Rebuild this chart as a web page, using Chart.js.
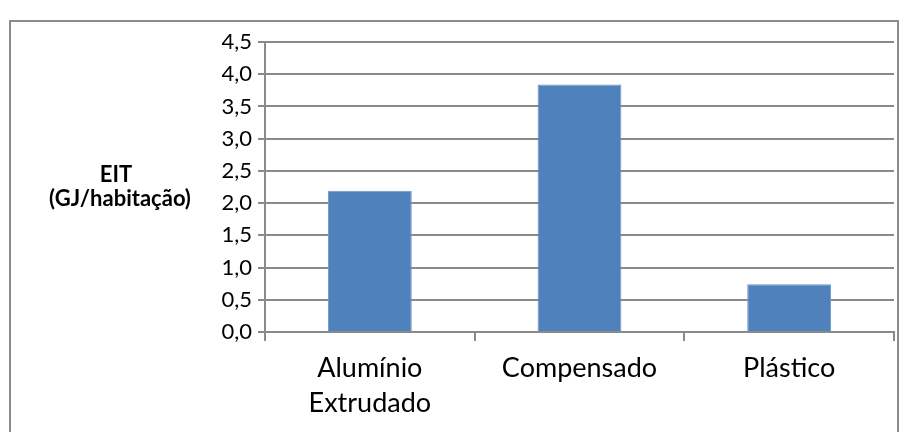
<!DOCTYPE html>
<html>
<head>
<meta charset="utf-8">
<script src="https://cdn.jsdelivr.net/npm/chart.js@4.4.0/dist/chart.umd.min.js"></script>
<style>
  html, body { margin: 0; padding: 0; background: #fff; }
  #wrap { width: 910px; height: 432px; }
</style>
</head>
<body>
<div id="wrap"><canvas id="eitChart"></canvas></div>
<script>
// categorias e valores de EIT (GJ/habitação)
const categorias = [['Alumínio', 'Extrudado'], 'Compensado', 'Plástico'];
const valoresEIT = [2.19, 3.84, 0.74];
const eixoY = { min: 0, max: 4.5, passo: 0.5 };
const tituloY = ['EIT', '(GJ/habitação)'];

const fonte = 'Lato, "Open Sans", sans-serif';
const cinza = '#8a8a8a';

// moldura e título do eixo Y desenhados à mão, estilo Excel
const moldura = {
  id: 'moldura',
  beforeDraw(chart) {
    const ctx = chart.ctx;
    ctx.save();
    ctx.fillStyle = '#fff';
    ctx.fillRect(0, 0, chart.width, chart.height);
    ctx.strokeStyle = '#8c8c8c';
    ctx.lineWidth = 2;
    ctx.strokeRect(10, 21, 888, 430);
    ctx.restore();
  },
  afterDraw(chart) {
    const ctx = chart.ctx;
    ctx.save();
    ctx.fillStyle = '#000';
    ctx.font = 'bold 22px ' + fonte;
    ctx.textAlign = 'center';
    ctx.textBaseline = 'middle';
    ctx.fillText(tituloY[0], 116, 175);
    ctx.fillText(tituloY[1], 120, 199);
    ctx.restore();
  }
};

new Chart(document.getElementById('eitChart'), {
  type: 'bar',
  data: {
    labels: categorias,
    datasets: [{
      data: valoresEIT,
      backgroundColor: '#4f81bd',
      borderColor: '#6d96c8',
      borderWidth: 1,
      categoryPercentage: 1,
      barPercentage: 0.4
    }]
  },
  options: {
    responsive: true,
    maintainAspectRatio: false,
    animation: false,
    layout: { padding: { top: 42, left: 0, right: 16, bottom: 0 } },
    plugins: {
      legend: { display: false },
      tooltip: { enabled: false }
    },
    scales: {
      x: {
        grid: {
          offset: true,
          drawOnChartArea: false,
          drawTicks: true,
          tickLength: 9,
          color: cinza,
          lineWidth: 2
        },
        border: { display: true, color: cinza, width: 2 },
        ticks: {
          color: '#000',
          font: { family: fonte, size: 27, lineHeight: 1.3 },
          padding: 10,
          maxRotation: 0
        },
        afterFit(scale) { scale.height = 100; }
      },
      y: {
        min: eixoY.min,
        max: eixoY.max,
        grid: {
          color: cinza,
          lineWidth: 2,
          drawTicks: true,
          tickLength: 7
        },
        border: { display: true, color: cinza, width: 2 },
        ticks: {
          stepSize: eixoY.passo,
          color: '#000',
          font: { family: fonte, size: 22 },
          padding: 6,
          callback: v => v.toFixed(1).replace('.', ',')
        },
        afterFit(scale) { scale.width = 265; }
      }
    }
  },
  plugins: [moldura]
});
</script>
</body>
</html>
